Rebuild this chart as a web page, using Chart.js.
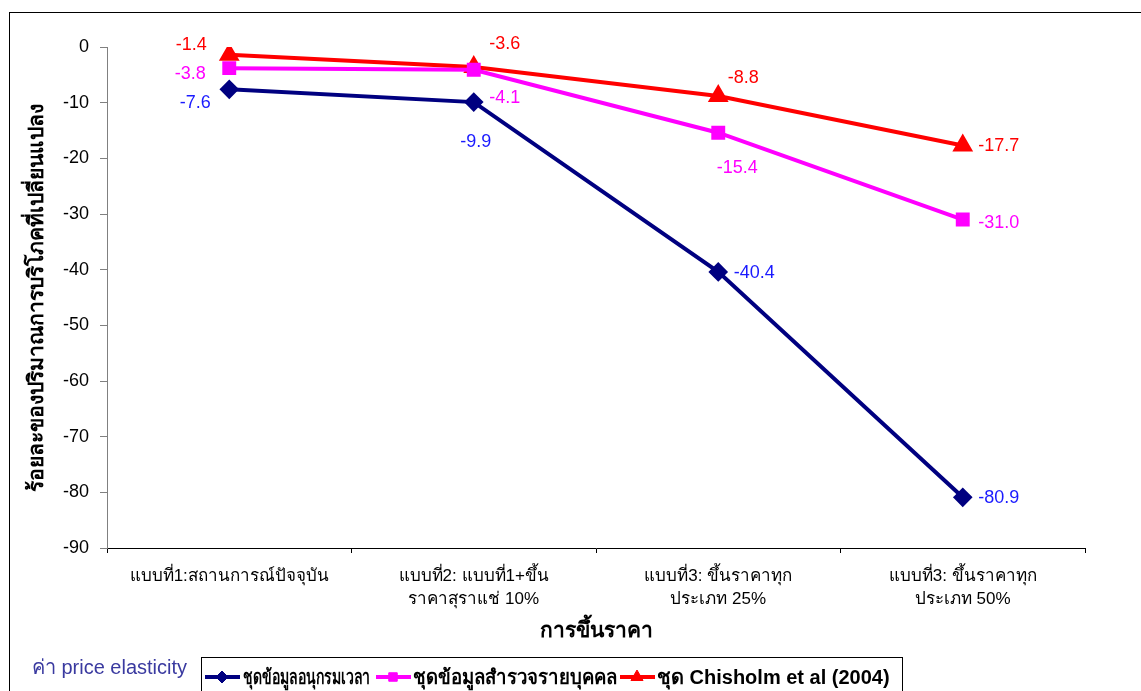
<!DOCTYPE html>
<html>
<head>
<meta charset="utf-8">
<script src="https://cdn.jsdelivr.net/npm/chart.js@4.4.1/dist/chart.umd.min.js"></script>
<style>
  html, body { margin: 0; padding: 0; background: #fff; }
  #wrap { width: 1141px; height: 691px; }
</style>
</head>
<body>
<div id="wrap"><canvas id="elasticity_chart" width="1141" height="691"></canvas></div>
<script>
var categories = [
    "แบบที่1:สถานการณ์ปัจจุบัน",
    ["แบบที่2: แบบที่1+ขึ้น", "ราคาสุราแช่ 10%"],
    ["แบบที่3: ขึ้นราคาทุก", "ประเภท 25%"],
    ["แบบที่3: ขึ้นราคาทุก", "ประเภท 50%"]
];
var seriesNames = ["ชุดข้อมูลอนุกรมเวลา", "ชุดข้อมูลสำรวจรายบุคคล", "ชุด Chisholm et al (2004)"];
var timeSeries = [-7.6, -9.9, -40.4, -80.9];
var surveySeries = [-3.8, -4.1, -15.4, -31.0];
var chisholmSeries = [-1.4, -3.6, -8.8, -17.7];
var yTicks = [0, -10, -20, -30, -40, -50, -60, -70, -80, -90];

var FONT = "'Liberation Sans', Arial, 'DejaVu Sans', sans-serif";

// where each value label sits relative to its point (px)
var labelOffsets = [
    [[-34, 14], [2, 40], [36, 1], [36, 1]],
    [[-39, 6], [31, 28], [19, 35], [36, 3]],
    [[-38, -10], [31, -23], [25, -18], [36, 1]]
];
var labelColors = ["#1a1aff", "#ff00ff", "#ff0000"];

// legend item slots (marker x, text x, text width) as laid out in the original
var legendSlots = [[222, 243, 127], [393, 413, 204], [637, 657, 236]];

var valueLabels = {
    id: 'valueLabels',
    afterDatasetsDraw: function (chart) {
        var ctx = chart.ctx;
        ctx.save();
        ctx.font = "18px " + FONT;
        ctx.textAlign = "center";
        ctx.textBaseline = "middle";
        chart.data.datasets.forEach(function (ds, i) {
            var meta = chart.getDatasetMeta(i);
            meta.data.forEach(function (pt, j) {
                var off = labelOffsets[i][j];
                ctx.fillStyle = labelColors[i];
                ctx.fillText(ds.data[j].toFixed(1), pt.x + off[0], pt.y + off[1]);
            });
        });
        ctx.restore();
    }
};

var frameAndLegend = {
    id: 'frameAndLegend',
    afterDraw: function (chart) {
        var ctx = chart.ctx;
        ctx.save();
        // outer frame
        ctx.strokeStyle = "#000";
        ctx.lineWidth = 1;
        ctx.strokeRect(9.5, 12.5, 1300, 800);

        // caption left of legend
        ctx.font = "20px " + FONT;
        ctx.fillStyle = "#3a3aa0";
        ctx.textAlign = "right";
        ctx.textBaseline = "middle";
        ctx.fillText("ค่า price elasticity", 187, 668);

        // legend box
        ctx.textAlign = "left";
        ctx.strokeRect(201.5, 657.5, 701, 60);
        ctx.font = "bold 20px " + FONT;
        var y = 677;
        chart.data.datasets.forEach(function (ds, i) {
            var slot = legendSlots[i];
            ctx.strokeStyle = ds.borderColor;
            ctx.lineWidth = 4;
            ctx.beginPath();
            ctx.moveTo(slot[0] - 17, y);
            ctx.lineTo(slot[0] + 18, y);
            ctx.stroke();
            ctx.fillStyle = ds.pointBackgroundColor;
            ctx.strokeStyle = ds.pointBorderColor;
            ctx.lineWidth = 1;
            Chart.helpers.drawPoint(ctx, {pointStyle: ds.pointStyle, radius: ds.pointRadius - 1, borderWidth: 1}, slot[0], y);
            ctx.fillStyle = "#000";
            ctx.fillText(ds.label, slot[1], y + 1, slot[2]);
        });
        ctx.restore();
    }
};

function makeSet(label, data, color, style, radius) {
    return {
        label: label,
        data: data,
        borderColor: color,
        backgroundColor: color,
        pointBackgroundColor: color,
        pointBorderColor: color,
        pointStyle: style,
        pointRadius: radius,
        pointHoverRadius: radius,
        borderWidth: 4,
        tension: 0,
        fill: false
    };
}

var ctx = document.getElementById("elasticity_chart");
var myChart = new Chart(ctx, {
    type: 'line',
    data: {
        labels: categories,
        datasets: [
            makeSet(seriesNames[0], timeSeries, "#000080", "rectRot", 7),
            makeSet(seriesNames[1], surveySeries, "#ff00ff", "rect", 7),
            makeSet(seriesNames[2], chisholmSeries, "#ff0000", "triangle", 8)
        ]
    },
    options: {
        responsive: false,
        animation: false,
        layout: { padding: { top: 47, right: 56, bottom: 43, left: 0 } },
        plugins: {
            legend: { display: false },
            tooltip: { enabled: false }
        },
        scales: {
            x: {
                offset: true,
                grid: { offset: true, drawOnChartArea: false, drawTicks: true, tickLength: 5, color: "#000" },
                border: { color: "#000", width: 1 },
                ticks: { color: "#000", font: { family: FONT, size: 17, lineHeight: 1.35 }, padding: 12, maxRotation: 0, autoSkip: false },
                title: { display: true, text: "การขึ้นราคา", color: "#000", font: { family: FONT, size: 21, weight: 'bold' }, padding: { top: 0, bottom: 4 } },
                afterFit: function (scale) { scale.height = 100; }
            },
            y: {
                min: -90,
                max: 0,
                afterBuildTicks: function (scale) {
                    scale.ticks = yTicks.map(function (v) { return { value: v }; });
                },
                grid: { drawOnChartArea: false, drawTicks: true, tickLength: 7, color: "#808080" },
                border: { color: "#808080", width: 1 },
                ticks: { color: "#000", font: { family: FONT, size: 18 }, padding: 11 },
                title: { display: true, text: "ร้อยละของปริมาณการบริโภคที่เปลี่ยนแปลง", color: "#000", font: { family: FONT, size: 21, weight: 'bold' }, padding: { top: 25, bottom: 0 } },
                afterFit: function (scale) { scale.width = 107; }
            }
        }
    },
    plugins: [valueLabels, frameAndLegend]
});
</script>
</body>
</html>
